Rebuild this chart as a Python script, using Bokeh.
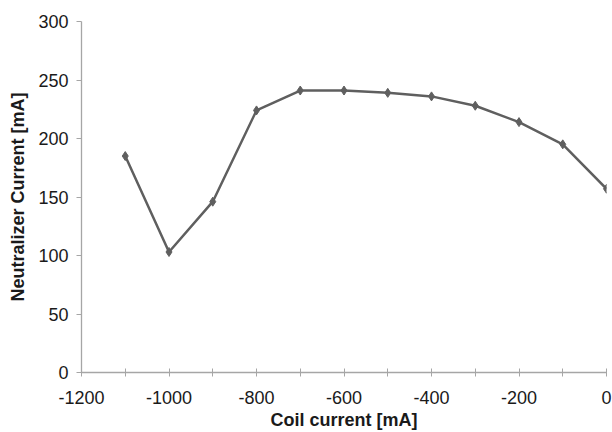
from bokeh.plotting import figure
from bokeh.embed import file_html
from bokeh.resources import INLINE
from bokeh.models import Range1d, FixedTicker

coil_current = [-1100, -1000, -900, -800, -700, -600, -500, -400, -300, -200, -100, 0]
neutralizer_current = [185, 103, 146, 224, 241, 241, 239, 236, 228, 214, 195, 157]
x_ticks = [-1200, -1000, -800, -600, -400, -200, 0]
x_minor = [-1100, -900, -700, -500, -300, -100]
y_ticks = [0, 50, 100, 150, 200, 250, 300]

p = figure(width=612, height=432, output_backend="svg", toolbar_location=None,
           x_range=Range1d(-1200, 0), y_range=Range1d(0, 300),
           min_border_left=81, min_border_right=6, min_border_top=21, min_border_bottom=56)
p.outline_line_color = None
p.xgrid.grid_line_color = None
p.ygrid.grid_line_color = None
p.background_fill_color = "white"
p.border_fill_color = "white"

line_color = "#5f5f5f"
p.line(coil_current, neutralizer_current, line_color=line_color, line_width=2.5)
p.scatter(coil_current, neutralizer_current, marker="diamond", size=9,
          fill_color=line_color, line_color=line_color)

axis_color = "#a6a6a6"
font = "Liberation Sans"
for ax in (p.xaxis[0], p.yaxis[0]):
    ax.axis_line_color = axis_color
    ax.axis_line_width = 1.3
    ax.major_tick_line_color = axis_color
    ax.minor_tick_line_color = axis_color
    ax.major_label_text_font = font
    ax.major_label_text_font_size = "18px"
    ax.major_label_text_color = "#1a1a1a"
    ax.axis_label_text_font = font
    ax.axis_label_text_font_size = "18px"
    ax.axis_label_text_font_style = "bold"
    ax.axis_label_text_color = "#1a1a1a"

p.xaxis.ticker = FixedTicker(ticks=x_ticks, minor_ticks=x_minor)
p.xaxis.major_label_overrides = {t: str(t) for t in x_ticks}
p.xaxis.major_tick_in = 4
p.xaxis.major_tick_out = 4
p.xaxis.minor_tick_in = 4
p.xaxis.minor_tick_out = 4
p.xaxis.major_label_standoff = 14
p.xaxis.axis_label = "Coil current [mA]"
p.xaxis.axis_label_standoff = 3

p.yaxis.ticker = FixedTicker(ticks=y_ticks)
p.yaxis.major_label_overrides = {t: str(t) for t in y_ticks}
p.yaxis.major_tick_in = 0
p.yaxis.major_tick_out = 5
p.yaxis.minor_tick_line_color = None
p.yaxis.major_label_standoff = 8
p.yaxis.axis_label = "Neutralizer Current [mA]"
p.yaxis.axis_label_standoff = 7

open("out.html", "w").write(file_html(p, INLINE))
